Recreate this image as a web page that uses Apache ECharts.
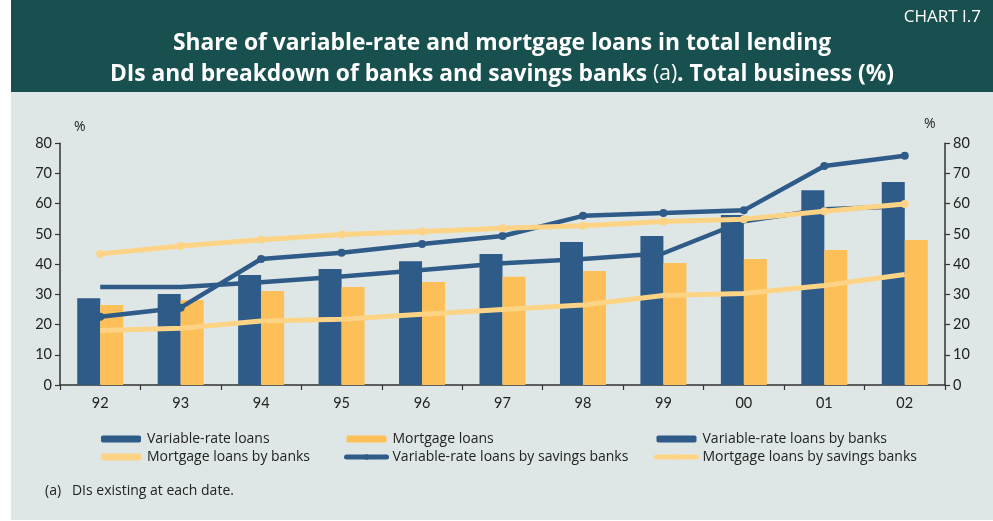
<!DOCTYPE html>
<html>
<head>
<meta charset="utf-8">
<script src="https://cdn.jsdelivr.net/npm/echarts@6/dist/echarts.min.js"></script>
<style>
  html, body { margin: 0; padding: 0; background: #ffffff; }
  #chart { width: 993px; height: 521px; }
</style>
</head>
<body>
<div id="chart"></div>
<script>
// Years (end of year, 1992-2002)
const years = ['92', '93', '94', '95', '96', '97', '98', '99', '00', '01', '02'];

// Share in total lending, %
const variableRateLoans = [28.7, 30.1, 36.4, 38.4, 41.0, 43.4, 47.3, 49.3, 56.3, 64.5, 67.2];
const mortgageLoans = [26.5, 28.1, 31.1, 32.4, 34.1, 35.8, 37.7, 40.4, 41.7, 44.7, 48.0];
const variableRateBanks = [32.4, 32.4, 34.0, 35.9, 38.1, 40.3, 41.7, 43.6, 54.2, 58.2, 59.2];
const mortgageBanks = [18.0, 18.8, 21.2, 21.8, 23.4, 25.0, 26.5, 29.6, 30.3, 32.9, 36.6];
const variableRateSavings = [22.6, 25.6, 41.7, 43.8, 46.7, 49.3, 56.0, 56.9, 57.8, 72.5, 75.9];
const mortgageSavings = [43.4, 46.0, 48.1, 49.8, 50.8, 51.9, 52.7, 54.1, 54.9, 57.5, 59.9];

// Value axis ticks
const yMin = 0, yMax = 80, yStep = 10;

const BLUE = '#2f5b88';
const ORANGE = '#fdbf57';
const LIGHT = '#fdd385';
const TEAL = '#17504e';
const PANEL = '#dfe7e6';
const INK = '#222222';
const FONT = '"Open Sans", Lato, sans-serif';
const NUMFONT = 'Lato, "Open Sans", sans-serif';

const chart = echarts.init(document.getElementById('chart'), null, { renderer: 'canvas' });

const valueAxis = (pos) => ({
  type: 'value',
  position: pos,
  min: yMin, max: yMax, interval: yStep,
  axisLine: { show: true, lineStyle: { color: '#333', width: 1.5 } },
  axisTick: { show: true, length: 5, lineStyle: { color: '#333', width: 1.2 } },
  axisLabel: { color: INK, fontFamily: NUMFONT, fontSize: 14.5, margin: 8 },
  splitLine: { show: false }
});

const legendBase = {
  orient: 'vertical',
  top: 431,
  padding: 0,
  itemWidth: 40,
  itemHeight: 7,
  itemGap: 2,
  lineStyle: { width: 5, cap: 'round' },
  textStyle: { color: INK, fontFamily: FONT, fontSize: 14, lineHeight: 16, padding: [0, 0, 0, 1] },
  selectedMode: false
};

// Lines without markers get a plain rounded bar as their key
const plainLineKey = (name) => ({ name: name, icon: 'roundRect' });

chart.setOption({
  animation: false,
  graphic: [
    { type: 'rect', z: -10, silent: true, shape: { x: 11, y: 0, width: 982, height: 520 }, style: { fill: PANEL } },
    { type: 'rect', z: -9, silent: true, shape: { x: 11, y: 0, width: 982, height: 92 }, style: { fill: TEAL } },
    { type: 'text', right: 12, top: 9, style: { text: 'CHART I.7', fill: '#ffffff', font: '17px ' + FONT } },
    {
      type: 'text', x: 502, y: 28,
      style: {
        text: '{b|Share of variable-rate and mortgage loans in total lending}\n{b|DIs and breakdown of banks and savings banks }{n|(a)}{b|. Total business (%)}',
        align: 'center',
        fill: '#ffffff',
        lineHeight: 31,
        rich: {
          b: { fontFamily: FONT, fontWeight: 'bold', fontSize: 22.8, fill: '#ffffff', lineHeight: 31 },
          n: { fontFamily: FONT, fontWeight: 'normal', fontSize: 21, fill: '#ffffff', lineHeight: 31 }
        }
      }
    },
    { type: 'text', left: 74, top: 120, style: { text: '%', fill: INK, font: '14px ' + FONT } },
    { type: 'text', left: 924, top: 117, style: { text: '%', fill: INK, font: '14px ' + FONT } },
    { type: 'text', left: 45, top: 484, style: { text: '(a)   DIs existing at each date.', fill: INK, font: '14px ' + FONT } }
  ],
  grid: { left: 60, right: 48, top: 143.3, bottom: 136, containLabel: false },
  legend: [
    Object.assign({}, legendBase, { left: 101, data: ['Variable-rate loans', plainLineKey('Mortgage loans by banks')] }),
    Object.assign({}, legendBase, { left: 344, data: ['Mortgage loans', 'Variable-rate loans by savings banks'] }),
    Object.assign({}, legendBase, { left: 654, data: [plainLineKey('Variable-rate loans by banks'), 'Mortgage loans by savings banks'] })
  ],
  xAxis: {
    type: 'category',
    data: years,
    boundaryGap: true,
    axisLine: { lineStyle: { color: '#333', width: 1.5 } },
    axisTick: { show: true, length: 5, alignWithLabel: false, lineStyle: { color: '#333', width: 1.2 } },
    axisLabel: { color: INK, fontFamily: NUMFONT, fontSize: 14.5, margin: 11 }
  },
  yAxis: [valueAxis('left'), valueAxis('right')],
  series: [
    {
      name: 'Variable-rate loans', type: 'bar', data: variableRateLoans,
      barWidth: 23, barGap: '0%', itemStyle: { color: BLUE }, z: 2
    },
    {
      name: 'Mortgage loans', type: 'bar', data: mortgageLoans,
      barWidth: 23, barGap: '0%', itemStyle: { color: ORANGE }, z: 2
    },
    {
      name: 'Variable-rate loans by banks', type: 'line', data: variableRateBanks,
      symbol: 'none', lineStyle: { color: BLUE, width: 4.5 }, itemStyle: { color: BLUE }, z: 3
    },
    {
      name: 'Mortgage loans by banks', type: 'line', data: mortgageBanks,
      symbol: 'none', lineStyle: { color: LIGHT, width: 5 }, itemStyle: { color: LIGHT }, z: 3
    },
    {
      name: 'Variable-rate loans by savings banks', type: 'line', data: variableRateSavings,
      symbol: 'circle', symbolSize: 8, lineStyle: { color: BLUE, width: 4.5 }, itemStyle: { color: BLUE }, z: 4
    },
    {
      name: 'Mortgage loans by savings banks', type: 'line', data: mortgageSavings,
      symbol: 'circle', symbolSize: 8, lineStyle: { color: LIGHT, width: 5 }, itemStyle: { color: LIGHT }, z: 4
    }
  ]
});
</script>
</body>
</html>
